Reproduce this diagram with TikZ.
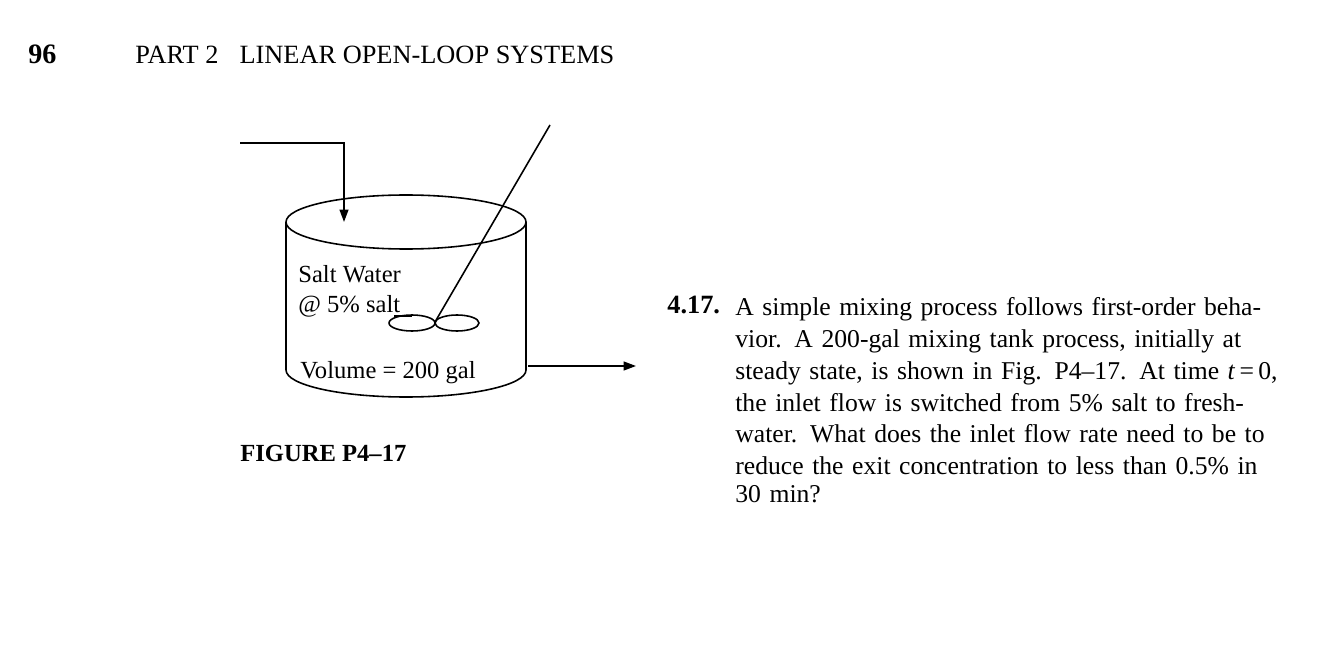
\documentclass[tikz,border=0pt]{standalone}
\usepackage{fontspec}
\setmainfont{Liberation Serif}
\usetikzlibrary{arrows.meta}
\newcommand{\jl}[1]{\makebox[10.4cm][s]{#1}\\}
\begin{document}
\begin{tikzpicture}[x=0.02cm,y=-0.02cm,
  ln/.style={line width=0.9pt},
  arr/.style={ln,-{Triangle[length=7pt,width=5pt]}},
  txt/.style={inner sep=0pt,anchor=base west,font=\fontsize{15}{18}\selectfont}]
\useasboundingbox (0,0) rectangle (1334,648);
% header
\node[txt,font=\fontsize{16}{18}\selectfont\bfseries] (pg) at (28,64) {96};
\node[txt,font=\fontsize{15}{18}\selectfont] (hd) at (135,64) {PART 2\hspace{0.8em}LINEAR OPEN-LOOP SYSTEMS};
% tank
\draw[ln] (406,222) ellipse (120 and 27);
\draw[ln] (286,222) -- (286,370) arc[start angle=180,end angle=0,x radius=120,y radius=27] -- (526,222);
% inlet
\coordinate (in0) at (240,143);
\coordinate (in1) at (344,143);
\coordinate (in2) at (344,222);
\draw[arr] (in0) -- (in1) -- (in2);
% stirrer
\coordinate (s0) at (550,125);
\coordinate (s1) at (435,322);
\draw[ln] (s0) -- (s1);
\draw[ln] (412,323) ellipse (23 and 8);
\draw[ln] (457,323) ellipse (22 and 8);
\draw[ln] (394,316) -- (412,316);
% outlet
\coordinate (o0) at (528,366);
\coordinate (o1) at (636,366);
\draw[arr] (o0) -- (o1);
% labels
\node[txt,font=\fontsize{14}{18}\selectfont] (sw) at (298,283) {Salt Water};
\node[txt,font=\fontsize{14}{18}\selectfont] (ps) at (298,313) {@ 5\% salt};
\node[txt,font=\fontsize{14}{18}\selectfont] (vol) at (300,378) {Volume = 200 gal};
\node[txt,font=\fontsize{14}{18}\selectfont\bfseries] (fig) at (240,461) {FIGURE P4--17};
% problem
\node[txt,font=\fontsize{15}{18}\selectfont\bfseries] (num) at (667,314) {4.17.};
\node[inner sep=0pt,anchor=north west,text width=10.4cm,align=left,font=\fontsize{14.6}{16}\selectfont] (pb) at (735,297)
{\baselineskip=18.15pt
\jl{A simple mixing process follows first-order beha-}
\jl{vior. A 200-gal mixing tank process, initially at}
\jl{steady state, is shown in Fig. P4--17. At time \textit{t}\,=\,0,}
\jl{the inlet flow is switched from 5\% salt to fresh-}
\jl{water. What does the inlet flow rate need to be to}
\jl{reduce the exit concentration to less than 0.5\% in}
30 min?};
\end{tikzpicture}
\end{document}
